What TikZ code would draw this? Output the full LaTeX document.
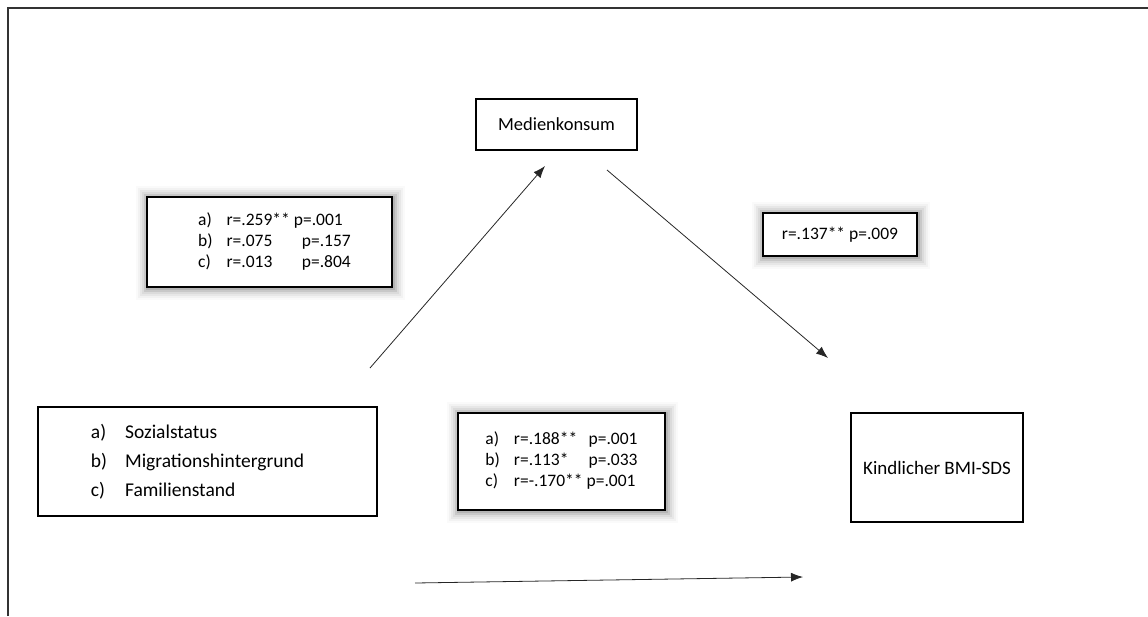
\documentclass[tikz,border=0pt]{standalone}
\usepackage{fontspec}
\setmainfont{Carlito}
\usetikzlibrary{arrows.meta,backgrounds}
\tikzset{
  box/.style={draw=black, line width=1.4pt, fill=white, inner sep=0pt, outer sep=0pt},
  stat/.style={box, font=\fontsize{17.5}{21}\selectfont},
  arr/.style={draw=black!85, line width=0.8pt, -{Latex[length=12pt,width=9pt]}},
}
\newcommand{\glowbox}[1]{%
  \begin{scope}[on background layer]
  \foreach \d/\o in {2/0.10,4/0.08,6/0.06,8/0.045,10/0.03,12/0.02}{
    \fill[black,opacity=\o] ([shift={(-\d pt+1pt,-\d pt-1pt)}]#1.south west) rectangle ([shift={(\d pt+1pt,\d pt-1pt)}]#1.north east);
  }
  \end{scope}}
\begin{document}
\begin{tikzpicture}[x=1pt,y=-1pt]
\useasboundingbox (0,0) rectangle (1148,616);
% outer frame (top and left)
\draw[line width=1.6pt, black!80] (8,616) -- (8,8) -- (1148,8);

% main nodes
\node[box, minimum width=161pt, minimum height=51pt, font=\fontsize{18.5}{22}\selectfont] (med) at (556.5,124.5) {Medienkonsum};
\node[box, minimum width=339pt, minimum height=109pt, font=\fontsize{19.5}{29}\selectfont] (fac) at (207.5,461.5)
 {\begin{tabular}{@{}l@{\hspace{18pt}}l@{\hspace{20pt}}}a) & Sozialstatus\\ b) & Migrationshintergrund\\ c) & Familienstand\end{tabular}};
\node[box, minimum width=172pt, minimum height=109pt, font=\fontsize{19}{22}\selectfont] (kind) at (937,467.5) {Kindlicher BMI-SDS};

% statistics boxes
\node[stat, minimum width=245pt, minimum height=90pt] (st1) at (269.5,242)
 {\begin{tabular}{@{\hspace{10pt}}l@{\hspace{14pt}}l@{\hspace{4pt}}l@{}}a) & r=.259** & p=.001\\ b) & r=.075 & \hspace{8pt}p=.157\\ c) & r=.013 & \hspace{8pt}p=.804\end{tabular}};
\node[stat, minimum width=154pt, minimum height=43pt] (st2) at (840,234.5) {r=.137** p=.009};
\node[stat, minimum width=207pt, minimum height=97pt] (st3) at (561.5,461.5)
 {\begin{tabular}{@{}l@{\hspace{14pt}}l@{\hspace{4pt}}l@{}}a) & r=.188** & \hspace{2pt}p=.001\\ b) & r=.113* & \hspace{2pt}p=.033\\ c) & r=-.170** & p=.001\end{tabular}};
\glowbox{st1}
\glowbox{st2}
\glowbox{st3}

% arrows
\coordinate (a1s) at (370,368);
\coordinate (a1e) at (545,166);
\coordinate (a2s) at (607,170);
\coordinate (a2e) at (828,358);
\coordinate (a3s) at (415,583);
\coordinate (a3e) at (803,577);
\draw[arr] (a1s) -- (a1e);
\draw[arr] (a2s) -- (a2e);
\draw[arr] (a3s) -- (a3e);
\end{tikzpicture}
\end{document}
